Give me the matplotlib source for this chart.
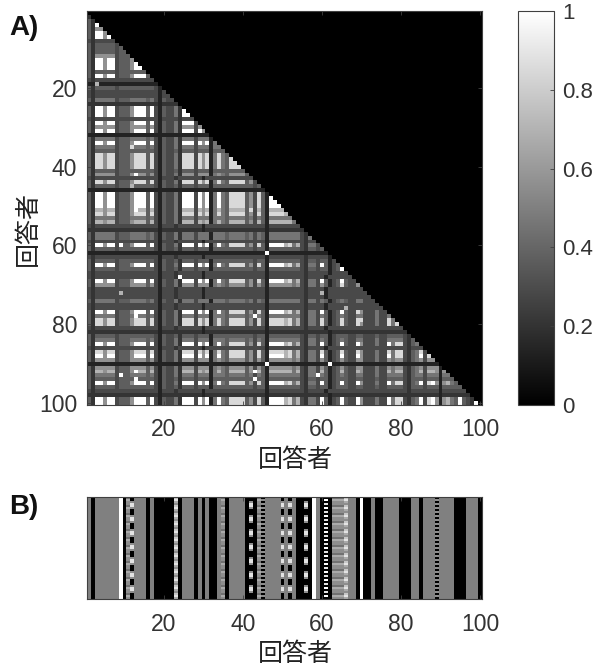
#coding:utf-8
import numpy as np
import matplotlib
matplotlib.use('Agg')
import matplotlib.pyplot as plt

plt.rcParams['font.family'] = ['Liberation Sans', 'Noto Sans CJK JP', 'DejaVu Sans']

# A) lower triangle, one string per respondent, gray level 0-9
sim_rows = [
"",
"2",
"42",
"429",
"4266",
"42996",
"429969",
"3233333",
"42444443",
"424444434",
"4244444344",
"42666663444",
"429969934446",
"4299699344469",
"42996993444699",
"424444434444444",
"4299699344469994",
"32333333333333333",
"111111111111111111",
"4244444344444444431",
"32333333333333333313",
"323333333333333333133",
"4255555344455554531433",
"22222222222222222212222",
"429969934446999493143352",
"4299699344469994931433529",
"42996993444699949314335299",
"323333333333333333133332333",
"4299699344469994931433529993",
"42666663444666646314335266636",
"429969934446999493143352999396",
"1111111111111111111111111111111",
"42555553444555545314335255535551",
"429969934446999493143352999396915",
"4255555344455554531433525553555155",
"42444443444444444314334244434441444",
"428868834446888483143352888386815854",
"4288688344468884831433528883868158548",
"42886883444688848314335288838681585488",
"428868834446888483143352888386815854888",
"4244444344444444431433424443444144444444",
"42666663444666646314335266636661565466664",
"323333333333333333133323333331333333333333",
"4288688344468884831433528883868158548888463",
"42444443444444444314334244434441444444444434",
"111111111111111111111111111111111111111111111",
"4299699344469994931433529993969159548888463841",
"42996993444699949314335299939691595488884638419",
"429969934446999493143352999396915954888846384199",
"4299699344469994931433529993969159548888463841999",
"42776773444677747314335277737671575477774637417777",
"428868834446888483143352888386815854888846384188887",
"4255555344455554531433525553555155545555453541555555",
"42776773444677747314335277737671575477774637417777775",
"323333333333333333133323333331333333333333333133333333",
"2222222222222222221222222222212222222222222221222222222",
"42555553444555545314335255535551555455554535415555555532",
"425555534445555453143352555355515554555545354155555555325",
"3233333333333333331333233333313333333333333331333333333233",
"42996993444699949314335299939691595488884638419999785732553",
"424444434444444443143342444344414444444444344144444444324434",
"1111111111111111111111111111111111111111111111111111111111111",
"32333333333333333313332333333133333333333333313333333332333331",
"424444434444444443143342444344414444444444344144444444324434413",
"4299699344469994931433529993969159548888463841999978573255394134",
"42444443444444444314334244434441444444444434414444444432443441344",
"323333333333333333133323333331333333333333333133333333323333313333",
"3233333333333333331333233333313333333333333331333333333233331333333",
"42996993444699949314335299939691595488884638419999785732553941349433",
"426666634446666463143352666366615654666646364166666656325536413464336",
"3233333333333333331333233333313333333333333331333333333233331333333333",
"32333333333333333313332333333133333333333333313333333332333313333333333",
"323333333333333333133323333331333333333333333133333333323333133333333333",
"4255555344455554531433525553555155545555453541555555553255354134543355333",
"32333333333333333313332333333133333333333333313333333332333313333333333333",
"323333333333333333133323333331333333333333333133333333323333133333333333333",
"4299699344469994931433529993969159548888463841999978573255394134943396333533",
"42555553444555545314335255535551555455554535415555555532553541345433553335335",
"428868834446888483143352888386815854888846384188887857325538413484338633353385",
"4288688344468884831433528883868158548888463841888878573255384134843386333533858",
"32333333333333333313332333333133333333333333313333333332333313333333333333333333",
"222222222222222222122222222221222222222222222122222222222222212222222222222222222",
"4244444344444444431433424443444144444444443441444444443244344134443344333433444432",
"42555553444555545314335255535551555455554535415555555532553541345433553335335555324",
"429969934446999493143352999396915954888846384199997857325539413494339633353395883245",
"3233333333333333331333233333313333333333333331333333333233331333333333333333333332333",
"42886883444688848314335288838681585488884638418888785732553841348433863335338588324583",
"429969934446999493143352999396915954888846384199997857325539413494339633353395883245938",
"4266666344466664631433526663666156546666463641666666563255364134643366333533656632456366",
"11111111111111111111111111111111111111111111111111111111111111111111111111111111111111111",
"426666634446666463143352666366615654666646364166666656325536413464336633353365663245636661",
"4277677344467774731433527773767157547777463741777777573255374134743376333533757732457377616",
"42555553444555545314335255535551555455554535415555555532553541345433553335335555324553555155",
"424444434444444443143342444344414444444444344144444444324434413444334433343344443244434441444",
"4299699344469994931433529993969159548888463841999978573255394134943396333533958832459389616754",
"42444443444444444314334244434441444444444434414444444432443441344433443334334444324443444144444",
"323333333333333333133323333331333333333333333133333333323333133333333333333333333233333331333333",
"2222222222222222221222222222212222222222222221222222222222222122222222222222222222222222212222222",
"42996993444699949314335299939691595488884638419999785732553941349433963335339588324593896167549432",
"429969934446999493143352999396915954888846384199997857325539413494339633353395883245938961675494329",
]

# value of each gray level 0-9
level_values = [0, 0.14, 0.21, 0.29, 0.37, 0.46, 0.57, 0.70, 0.85, 1]

# isolated bright cells in A (row, col, level)
bright_cells = [
    (19, 3, 7), (35, 12, 8), (42, 13, 9), (45, 12, 7), (51, 13, 9), (51, 42, 8),
    (60, 9, 9), (72, 9, 7), (68, 24, 9), (62, 46, 9), (90, 46, 9), (90, 62, 9),
    (93, 9, 9), (92, 13, 9), (94, 13, 9), (78, 13, 9), (92, 43, 9), (94, 43, 9),
    (78, 43, 9), (66, 65, 9), (70, 65, 8), (77, 69, 8), (79, 70, 8), (93, 59, 9),
    (72, 60, 7), (76, 66, 7),
]

# B) code of each of the 100 columns
b_columns = ("g" + "k" + "gggggg" + "w" + "k" + "hb" + "ggg" + "k" + "g" + "kkkkk" + "l" + "k"
             + "ggg" + "k" + "g" + "k" + "g" + "kk" + "gh" + "k" + "gggg" + "k" + "bk" + "hs" + "gggg"
             + "bgbg" + "kk" + "b" + "k" + "w" + "g" + "k" + "t" + "k" + "hhh" + "l" + "gg" + "k" + "w"
             + "kk" + "g" + "kk" + "gggg" + "kkk" + "gg" + "k" + "ggg" + "s" + "gggg" + "kkk" + "ggg")
b_solid = {"g": 0.5, "k": 0, "w": 1}
b_textures = {
    "s": "050505050505050505050505050505050505050505050505050",
    "t": "090809080908090809080908090809080908090809080908090",
    "b": "005885000588500058850005885000588500058850005885000",
    "h": "465546554655465546554655465546554655465546554655465",
    "l": "786578657865786578657865786578657865786578657865786",
}

ticks = [20, 40, 60, 80, 100]
cbar_ticks = [0, 0.2, 0.4, 0.6, 0.8, 1]
cbar_labels = ['0', '0.2', '0.4', '0.6', '0.8', '1']

W, H = 593, 666
fig = plt.figure(figsize=(W / 100, H / 100), dpi=100)


def box(x0, y0, x1, y1):
    return fig.add_axes([x0 / W, 1 - y1 / H, (x1 - x0) / W, (y1 - y0) / H])


def style(ax):
    for s in ax.spines.values():
        s.set_color('#404040')
        s.set_linewidth(0.8)
    ax.tick_params(direction='in', length=3, width=0.6, color='#404040', labelcolor='#333333',
                   labelsize=16.5, top=True, right=True)


sim = np.zeros((100, 100))
for i, row in enumerate(sim_rows):
    for j, c in enumerate(row):
        sim[i, j] = level_values[int(c)]
for r, c, v in bright_cells:
    sim[r - 1, c - 1] = level_values[v]

ax = box(87, 11, 482, 405)
im = ax.imshow(sim, cmap='gray', vmin=0, vmax=1, aspect='auto', interpolation='nearest')
ax.set_xticks([t - 1 for t in ticks])
ax.set_xticklabels(ticks)
ax.set_yticks([t - 1 for t in ticks])
ax.set_yticklabels(ticks)
style(ax)
ax.tick_params(axis='x', pad=9)
ax.tick_params(axis='y', pad=7)

cax = box(518, 11, 554, 405)
cb = fig.colorbar(im, cax=cax)
cb.set_ticks(cbar_ticks)
cb.set_ticklabels(cbar_labels)
cb.ax.tick_params(direction='in', length=3, width=0.6, color='#404040', labelcolor='#333333',
                  labelsize=16, pad=6)
cb.outline.set_edgecolor('#404040')
cb.outline.set_linewidth(0.8)

pattern = np.zeros((51, 100))
for j, code in enumerate(b_columns[:100]):
    if code in b_solid:
        pattern[:, j] = b_solid[code]
    else:
        pattern[:, j] = [int(c) / 9 for c in b_textures[code]]

ax2 = box(87, 497, 482, 599)
ax2.imshow(pattern, cmap='gray', vmin=0, vmax=1, aspect='auto', interpolation='nearest')
ax2.set_xticks([t - 1 for t in ticks])
ax2.set_xticklabels(ticks)
ax2.set_yticks([])
style(ax2)
ax2.tick_params(axis='x', pad=10)

jp = ['Noto Sans CJK JP', 'DejaVu Sans']
fig.text(295 / W, 1 - 460 / H, '回答者', family=jp, fontsize=18, color='#222222', ha='center', va='center')
fig.text(295 / W, 1 - 654 / H, '回答者', family=jp, fontsize=18, color='#222222', ha='center', va='center')
fig.text(28 / W, 1 - 228 / H, '回答者', family=jp, fontsize=18, color='#222222', ha='center', va='center',
         rotation=90)
fig.text(9 / W, 1 - 28 / H, 'A)', fontsize=20, fontweight='bold', color='#111111', va='center')
fig.text(9 / W, 1 - 507 / H, 'B)', fontsize=20, fontweight='bold', color='#111111', va='center')

plt.savefig('out.png', dpi=100)
